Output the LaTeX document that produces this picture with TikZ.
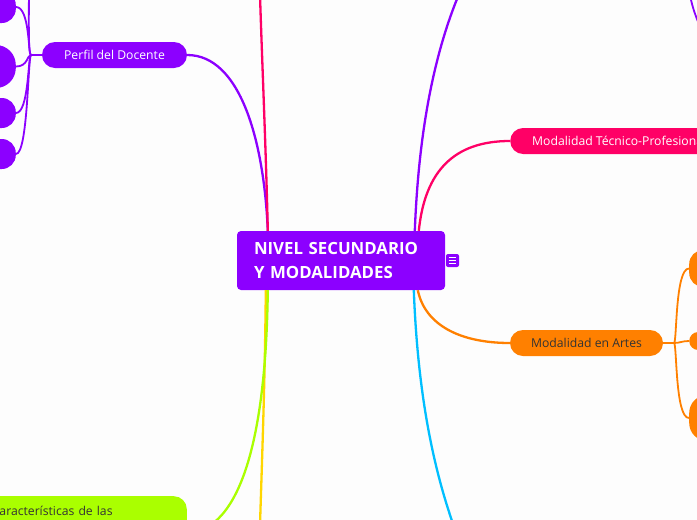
\documentclass[tikz,border=0pt]{standalone}
\usepackage{fontspec}
\setmainfont{Open Sans}
\usetikzlibrary{calc}
\definecolor{mmpurple}{RGB}{140,0,255}
\definecolor{mmpink}{RGB}{255,0,102}
\definecolor{mmorange}{RGB}{255,128,0}
\definecolor{mmlime}{RGB}{170,255,0}
\definecolor{mmyellow}{RGB}{255,214,0}
\definecolor{mmcyan}{RGB}{0,191,255}
\definecolor{mmtext}{RGB}{51,51,51}
\definecolor{bgc}{RGB}{253,253,253}
\begin{document}
\begin{tikzpicture}[x=1pt,y=-1pt,
  topic/.style={rounded corners=13pt, minimum height=26pt, inner sep=0pt, font=\fontsize{12.2}{14}\selectfont},
  blob/.style={rounded corners=14pt, minimum width=70pt, inner sep=0pt},
  conn/.style={line width=2.3pt},
  subconn/.style={line width=1.8pt},
]
\useasboundingbox (0,0) rectangle (697,520);
\fill[bgc] (0,0) rectangle (697,520);
\begin{scope}
\clip (0,0) rectangle (697,520);
% root
\node[fill=mmpurple, rounded corners=4pt, minimum width=208pt, minimum height=59pt,
  text width=174pt, inner xsep=17pt, inner ysep=0pt, align=left, text=white,
  font=\bfseries\fontsize{16.8}{24}\selectfont] (root) at (341,260.5) {NIVEL SECUNDARIO\\Y MODALIDADES};
\node[fill=mmpurple, rounded corners=2pt, minimum size=13pt, inner sep=0pt] (icon) at (452.5,260.5) {};
\foreach \dy in {-2.8,0,2.8}{
  \draw[white, line width=0.9pt] ($(icon.center)+(-3.6,\dy)$) -- ($(icon.center)+(3.6,\dy)$);
}
\coordinate (rtl) at ($(root.north west)+(31,0)$);
\coordinate (rtr) at ($(root.north west)+(178,0)$);
\coordinate (rtr2) at ($(root.north west)+(182,0)$);
\coordinate (rbl) at ($(root.south west)+(29,0)$);
\coordinate (rbl2) at ($(root.south west)+(31,0)$);
\coordinate (rbr) at ($(root.south west)+(177,0)$);
\coordinate (rbr2) at ($(root.south west)+(181,0)$);

% topics
\node[topic, fill=mmpurple, text=white, minimum width=145pt] (perfil) at (114.5,55) {Perfil del Docente};
\node[topic, fill=mmpink, text=white, anchor=west, inner xsep=22pt] (tecnico) at (510,141) {Modalidad Técnico-Profesional};
\node[topic, fill=mmorange, text=mmtext, minimum width=153pt] (artes) at (586.5,343) {Modalidad en Artes};
\node[fill=mmlime, rounded corners=13pt, anchor=north east, inner xsep=20pt, inner ysep=10pt,
  text width=175pt, align=left, text depth=45pt, text=mmtext, font=\fontsize{12.2}{14}\selectfont] (carac) at (187,496) {Características de las};

% off-canvas ends
\coordinate (offtl) at (29,-30);
\coordinate (offpink) at (260,-5);
\coordinate (offtr) at (478,-45);
\coordinate (trA) at (688,-20);
\coordinate (trB) at (706,40);
\coordinate (offyel) at (260,525);
\coordinate (offcyan) at (462,548);

% main connectors
\draw[conn, mmpurple] (perfil.east) .. controls (240,55) and (264,140) .. (rtl);
\draw[conn, mmpink] (rtl) .. controls (266,150) and (262,60) .. (offpink);
\draw[conn, mmpurple] (rtr) .. controls (418,150) and (430,40) .. (offtr);
\draw[conn, mmpink] (rtr2) .. controls (425,170) and (455,141) .. (tecnico.west);
\draw[conn, mmorange] (rbr2) .. controls (425,325) and (460,343) .. (artes.west);
\draw[conn, mmcyan] (rbr) .. controls (418,400) and (435,480) .. (offcyan);
\draw[conn, mmyellow] (rbl) .. controls (265,380) and (262,460) .. (offyel);
\draw[conn, mmlime] (rbl2) .. controls (266,440) and (240,530) .. (carac.east);
\draw[subconn, mmpurple] (trA) .. controls (690,5) and (697,20) .. (trB);

% left sub-blobs
\node[blob, fill=mmpurple, minimum height=32pt, anchor=east] (b1) at (16,7) {};
\node[blob, fill=mmpurple, minimum height=43pt, rounded corners=20pt, anchor=east] (b2) at (16,66.5) {};
\node[blob, fill=mmpurple, minimum height=30pt, anchor=east] (b3) at (16,113) {};
\node[blob, fill=mmpurple, minimum height=30pt, anchor=east] (b4) at (16,154) {};
\coordinate (pj) at (31,55);
\draw[subconn, mmpurple] (perfil.west) -- (pj);
\draw[subconn, mmpurple] (pj) .. controls (28,55) and (29,20) .. (offtl);
\draw[subconn, mmpurple] (pj) .. controls (28,55) and (30,7) .. (b1.east);
\draw[subconn, mmpurple] (pj) .. controls (27,55) and (28,66.5) .. (b2.east);
\draw[subconn, mmpurple] (pj) .. controls (28,55) and (29,113) .. (b3.east);
\draw[subconn, mmpurple] (pj) .. controls (28,55) and (28,154) .. (b4.east);

% right sub-blobs
\node[blob, fill=mmorange, minimum height=37pt, anchor=west] (r1) at (689,268.5) {};
\node[blob, fill=mmorange, minimum height=18pt, rounded corners=9pt, anchor=west] (r2) at (689,341) {};
\node[blob, fill=mmorange, minimum height=46pt, rounded corners=18pt, anchor=west] (r3) at (689,418) {};
\coordinate (aj) at (674,343);
\draw[subconn, mmorange] (artes.east) -- (aj);
\draw[subconn, mmorange] (aj) .. controls (677,343) and (675,268.5) .. (r1.west);
\draw[subconn, mmorange] (aj) .. controls (680,343) and (682,341) .. (r2.west);
\draw[subconn, mmorange] (aj) .. controls (677,343) and (675,418) .. (r3.west);
\end{scope}
\end{tikzpicture}
\end{document}
